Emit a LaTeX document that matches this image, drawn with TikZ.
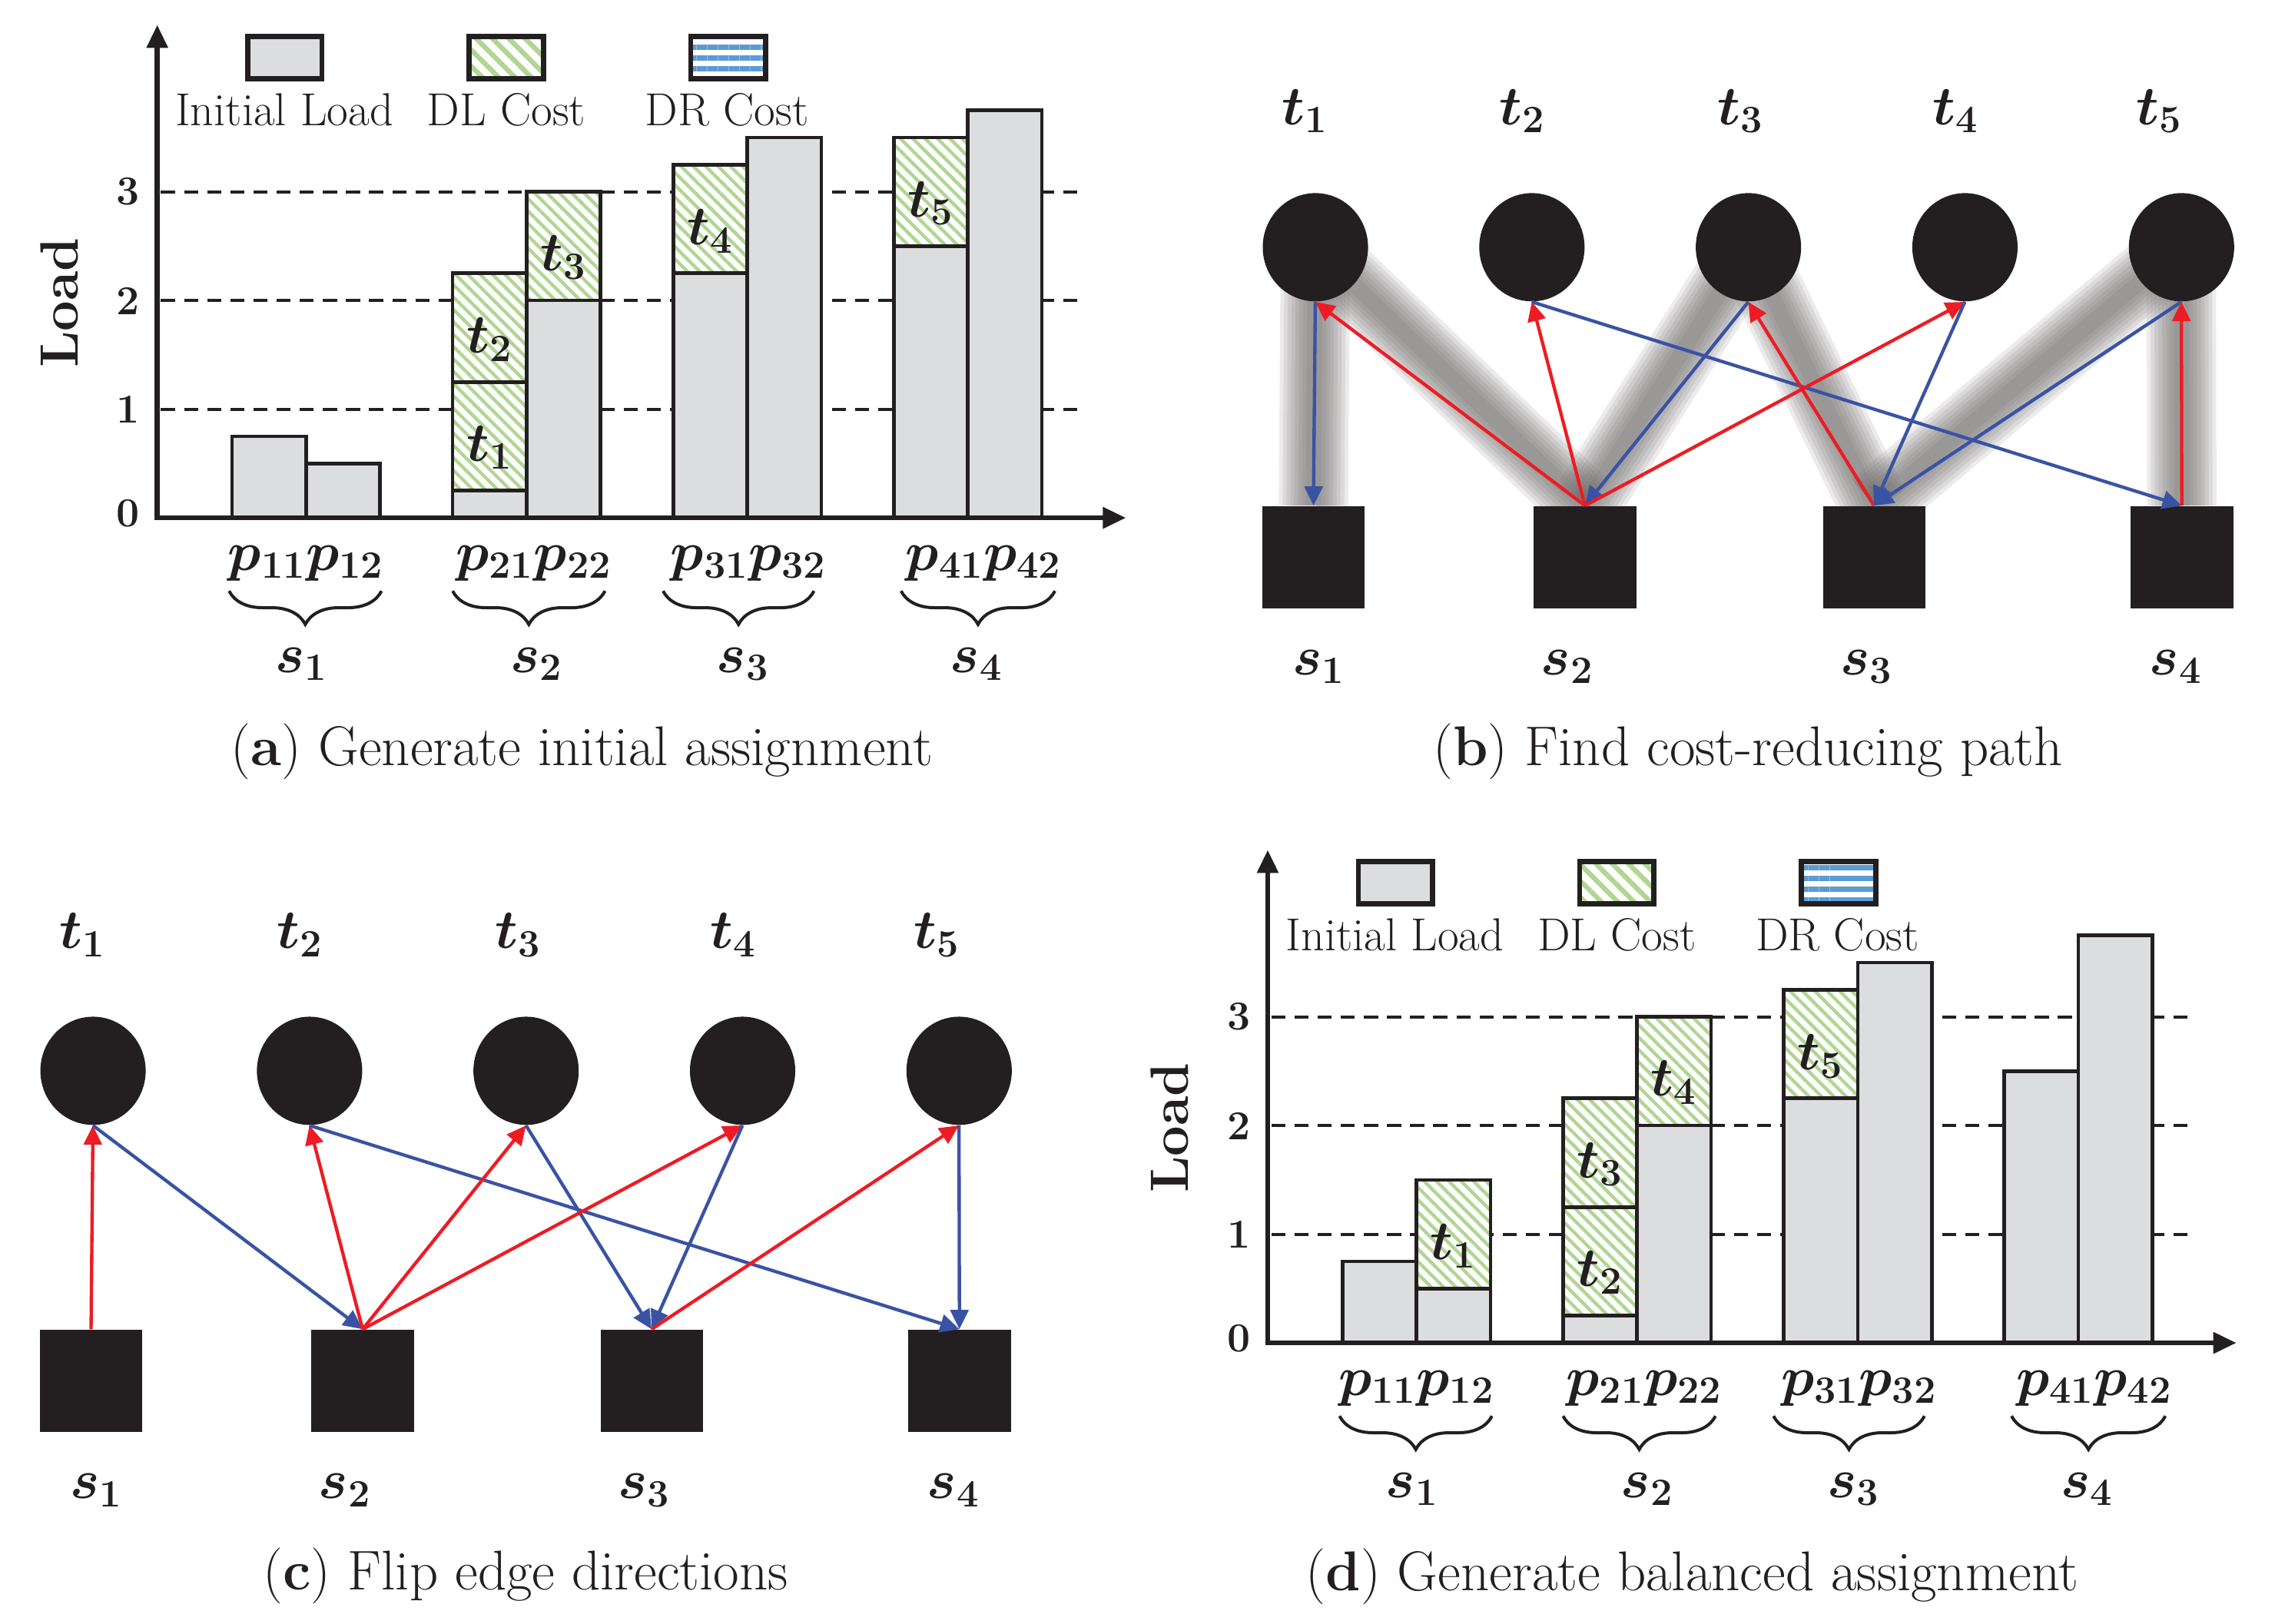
\RequirePackage{fix-cm}
\documentclass[tikz,border=0pt]{standalone}
\usepackage{bm}
\usetikzlibrary{arrows.meta,patterns.meta,decorations.pathreplacing,shapes.geometric,backgrounds}
\definecolor{nodeblk}{RGB}{35,31,32}
\definecolor{barfill}{RGB}{220,221,222}
\definecolor{hatchgreen}{RGB}{176,214,146}
\definecolor{drblue}{RGB}{91,155,213}
\definecolor{edgered}{RGB}{237,28,36}
\definecolor{edgeblue}{RGB}{57,83,164}
\definecolor{shadowgray}{RGB}{105,100,100}
\newcommand\fsz[1]{\fontsize{#1}{#1}\selectfont}
\tikzset{
  grid line/.style={draw=nodeblk, line width=1.2pt, dash pattern=on 5.5pt off 3.5pt},
  axis line/.style={draw=nodeblk, line width=2pt, line join=miter, arrows={Triangle[length=9pt,width=8pt]-Triangle[length=9pt,width=8pt]}},
  gbar/.style={draw=nodeblk, line width=1.4pt, fill=barfill},
  hbar/.style={draw=nodeblk, line width=1.4pt, preaction={fill=white}, pattern={Lines[angle=-45,distance=3.4pt,line width=1.3pt]}, pattern color=hatchgreen},
  leggray/.style={draw=nodeblk, line width=2pt, fill=barfill},
  leggreen/.style={draw=nodeblk, line width=2pt, preaction={fill=white}, pattern={Lines[angle=-45,distance=4.5pt,line width=1.9pt]}, pattern color=hatchgreen},
  legblue/.style={draw=nodeblk, line width=2pt, preaction={fill=white}, pattern={Lines[angle=0,distance=4.2pt,line width=2.1pt]}, pattern color=drblue},
  brc/.style={draw=nodeblk, line width=1.2pt, decorate, decoration={brace, mirror, amplitude=13pt}},
  mathlab/.style={font=\fsz{21.5}, inner sep=0pt, text=nodeblk},
  legtext/.style={font=\fsz{18}, inner sep=0pt, text=nodeblk},
  ticktext/.style={font=\fsz{16}\bfseries, inner sep=0pt, text=nodeblk},
  loadtext/.style={font=\fsz{21}\bfseries, inner sep=0pt, rotate=90, text=nodeblk},
  captext/.style={font=\fsz{21.8}, inner sep=0pt, text=nodeblk},
  tnode/.style={ellipse, fill=nodeblk, minimum width=1.44cm, minimum height=1.48cm, inner sep=0pt},
  snode/.style={rectangle, fill=nodeblk, minimum width=1.4cm, minimum height=1.4cm, inner sep=0pt},
  redarr/.style={draw=edgered, line width=1.3pt, arrows={-Triangle[length=7.5pt,width=7pt]}},
  bluearr/.style={draw=edgeblue, line width=1.3pt, arrows={-Triangle[length=7.5pt,width=7pt]}},
  shadowlayer/.style={draw=shadowgray, line width=#1, opacity=0.13}
}
\newcommand\chartgrid{%
  \draw[grid line] (110,279.7) -- (745,279.7);
  \draw[grid line] (110,205.4) -- (745,205.4);
  \draw[grid line] (110,131.1) -- (745,131.1);
}
\newcommand\chartrest[1]{%
  \coordinate (ytip) at (107.5,17);
  \coordinate (org) at (107.5,354);
  \coordinate (xtip) at (775,354);
  \draw[axis line] (ytip) -- (org) -- (xtip);
  \node[ticktext] (k0) at (87.5,351) {0};
  \node[ticktext] (k1) at (87.5,280) {1};
  \node[ticktext] (k2) at (87.5,206) {2};
  \node[ticktext] (k3) at (87.5,131) {3};
  \node[loadtext] (load) at (40,207) {Load};
  \draw[leggray] (170,25) rectangle (221,54);
  \draw[leggreen] (322.5,25) rectangle (373.5,54);
  \draw[legblue] (475,25) rectangle (526.5,54);
  \node[legtext] (l1) at (195,75) {Initial Load};
  \node[legtext] (l2) at (348,75) {DL Cost};
  \node[legtext] (l3) at (500,75) {DR Cost};
  \node[mathlab] (p1) at (210,385) {$\bm{p}_{\mathbf{11}}\bm{p}_{\mathbf{12}}$};
  \node[mathlab] (p2) at (367,385) {$\bm{p}_{\mathbf{21}}\bm{p}_{\mathbf{22}}$};
  \node[mathlab] (p3) at (515,385) {$\bm{p}_{\mathbf{31}}\bm{p}_{\mathbf{32}}$};
  \node[mathlab] (p4) at (677,385) {$\bm{p}_{\mathbf{41}}\bm{p}_{\mathbf{42}}$};
  \draw[brc] (157,404) -- (262,404);
  \draw[brc] (311,404) -- (416,404);
  \draw[brc] (456,404) -- (560,404);
  \draw[brc] (620,404) -- (726,404);
  \node[mathlab] (g1) at (207,454) {$\bm{s}_{\mathbf{1}}$};
  \node[mathlab] (g2) at (369,454) {$\bm{s}_{\mathbf{2}}$};
  \node[mathlab] (g3) at (511,454) {$\bm{s}_{\mathbf{3}}$};
  \node[mathlab] (g4) at (672,454) {$\bm{s}_{\mathbf{4}}$};
  \node[captext] (cap) at (400,514) {#1};
}
\newcommand\graphnodes[1]{%
  \node[tnode] (t1) at (899.3,169) {};
  \node[tnode] (t2) at (1048.4,169) {};
  \node[tnode] (t3) at (1197.5,169) {};
  \node[tnode] (t4) at (1346.6,169) {};
  \node[tnode] (t5) at (1495.7,169) {};
  \node[snode] (s1) at (898,381) {};
  \node[snode] (s2) at (1085,381) {};
  \node[snode] (s3) at (1284,381) {};
  \node[snode] (s4) at (1496,381) {};
  \node[mathlab] (lt1) at (892.3,76) {$\bm{t}_{\mathbf{1}}$};
  \node[mathlab] (lt2) at (1041.8,76) {$\bm{t}_{\mathbf{2}}$};
  \node[mathlab] (lt3) at (1192.3,76) {$\bm{t}_{\mathbf{3}}$};
  \node[mathlab] (lt4) at (1340.3,76) {$\bm{t}_{\mathbf{4}}$};
  \node[mathlab] (lt5) at (1480.3,76) {$\bm{t}_{\mathbf{5}}$};
  \node[mathlab] (ls1) at (901.8,456) {$\bm{s}_{\mathbf{1}}$};
  \node[mathlab] (ls2) at (1072.8,456) {$\bm{s}_{\mathbf{2}}$};
  \node[mathlab] (ls3) at (1278.8,456) {$\bm{s}_{\mathbf{3}}$};
  \node[mathlab] (ls4) at (1491.8,456) {$\bm{s}_{\mathbf{4}}$};
  \node[captext] (cap) at (1197.3,514) {#1};
}
\begin{document}
\begin{tikzpicture}[x=0.02cm,y=-0.02cm]
\useasboundingbox (0,0) rectangle (1555,1109.7);

% ---------------- panel (a)
\begin{scope}[name prefix=a-, shift={(0.86,0)}, xscale=0.992]
  \chartgrid
  \draw[gbar] (159,354) rectangle (210,298.3);
  \draw[gbar] (210,354) rectangle (261,316.9);
  \draw[gbar] (311,354) rectangle (362,335.4);
  \draw[hbar] (311,335.4) rectangle (362,261.1);
  \draw[hbar] (311,261.1) rectangle (362,186.8);
  \draw[gbar] (362,354) rectangle (413,205.4);
  \draw[hbar] (362,205.4) rectangle (413,131.1);
  \draw[gbar] (463,354) rectangle (514,186.8);
  \draw[hbar] (463,186.8) rectangle (514,112.5);
  \draw[gbar] (514,354) rectangle (565,94);
  \draw[gbar] (615,354) rectangle (666,168.3);
  \draw[hbar] (615,168.3) rectangle (666,94);
  \draw[gbar] (666,354) rectangle (717,75.4);
  \node[mathlab] (bt1) at (336.5,306) {$\bm{t}_{\mathbf{1}}$};
  \node[mathlab] (bt2) at (336.5,232) {$\bm{t}_{\mathbf{2}}$};
  \node[mathlab] (bt3) at (387.5,176) {$\bm{t}_{\mathbf{3}}$};
  \node[mathlab] (bt4) at (488.5,158) {$\bm{t}_{\mathbf{4}}$};
  \node[mathlab] (bt5) at (640.5,139) {$\bm{t}_{\mathbf{5}}$};
  \chartrest{(\textbf{a}) Generate initial assignment}
\end{scope}

% ---------------- panel (d)
\begin{scope}[shift={(759,564)}, name prefix=d-, shift={(0.86,0)}, xscale=0.992]
  \chartgrid
  \draw[gbar] (159,354) rectangle (210,298.3);
  \draw[gbar] (210,354) rectangle (261,316.9);
  \draw[hbar] (210,316.9) rectangle (261,242.6);
  \draw[gbar] (311,354) rectangle (362,335.4);
  \draw[hbar] (311,335.4) rectangle (362,261.1);
  \draw[hbar] (311,261.1) rectangle (362,186.8);
  \draw[gbar] (362,354) rectangle (413,205.4);
  \draw[hbar] (362,205.4) rectangle (413,131.1);
  \draw[gbar] (463,354) rectangle (514,186.8);
  \draw[hbar] (463,186.8) rectangle (514,112.5);
  \draw[gbar] (514,354) rectangle (565,94);
  \draw[gbar] (615,354) rectangle (666,168.3);
  \draw[gbar] (666,354) rectangle (717,75.4);
  \node[mathlab] (bt1) at (235.5,288) {$\bm{t}_{\mathbf{1}}$};
  \node[mathlab] (bt2) at (336.5,306) {$\bm{t}_{\mathbf{2}}$};
  \node[mathlab] (bt3) at (336.5,232) {$\bm{t}_{\mathbf{3}}$};
  \node[mathlab] (bt4) at (387.5,176) {$\bm{t}_{\mathbf{4}}$};
  \node[mathlab] (bt5) at (488.5,158) {$\bm{t}_{\mathbf{5}}$};
  \chartrest{(\textbf{d}) Generate balanced assignment}
\end{scope}

% ---------------- panel (b)
\begin{scope}[name prefix=b-, shift={(6.44,0)}, xscale=0.9926]
  \graphnodes{(\textbf{b}) Find cost-reducing path}
  \begin{scope}[on background layer]
    \foreach \u/\v in {t1/s1, t1/s2, t3/s2, t3/s3, t5/s3, t5/s4} {
      \foreach \w in {27,24,21,18,15,12,9,6} {
        \draw[shadowlayer=\w pt] (\u.center) -- (\v.north);
      }
    }
  \end{scope}
  \draw[bluearr] (t1.south) -- (s1.north);
  \draw[redarr] (s2.north) -- (t1.south);
  \draw[redarr] (s2.north) -- (t2.south);
  \draw[bluearr] (t2.south) -- (s4.north);
  \draw[bluearr] (t3.south) -- (s2.north);
  \draw[redarr] (s3.north) -- (t3.south);
  \draw[redarr] (s2.north) -- (t4.south);
  \draw[bluearr] (t4.south) -- (s3.north);
  \draw[bluearr] (t5.south) -- (s3.north);
  \draw[redarr] (s4.north) -- (t5.south);
\end{scope}

% ---------------- panel (c)
\begin{scope}[shift={(-835.5,563)}, name prefix=c-, shift={(6.44,0)}, xscale=0.9926]
  \graphnodes{(\textbf{c}) Flip edge directions}
  \draw[redarr] (s1.north) -- (t1.south);
  \draw[bluearr] (t1.south) -- (s2.north);
  \draw[redarr] (s2.north) -- (t2.south);
  \draw[bluearr] (t2.south) -- (s4.north);
  \draw[redarr] (s2.north) -- (t3.south);
  \draw[bluearr] (t3.south) -- (s3.north);
  \draw[redarr] (s2.north) -- (t4.south);
  \draw[bluearr] (t4.south) -- (s3.north);
  \draw[redarr] (s3.north) -- (t5.south);
  \draw[bluearr] (t5.south) -- (s4.north);
\end{scope}
\end{tikzpicture}
\end{document}
